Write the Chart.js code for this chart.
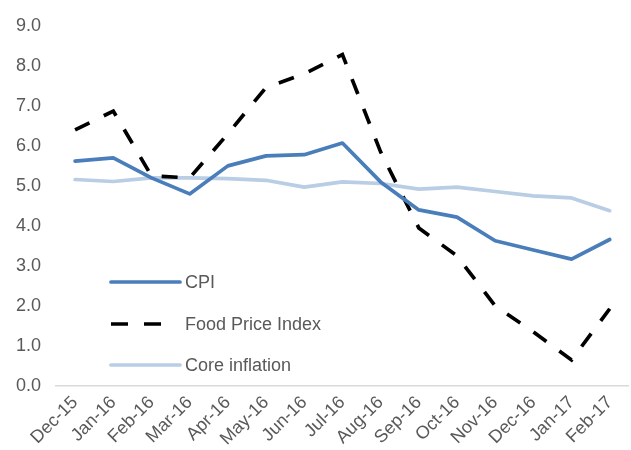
<!DOCTYPE html>
<html>
<head>
<meta charset="utf-8">
<script src="https://cdn.jsdelivr.net/npm/chart.js@4"></script>
<style>
  html, body { margin: 0; padding: 0; background: #fff; }
  #wrap { width: 631px; height: 450px; }
</style>
</head>
<body>
<div id="wrap"><canvas id="myChart" width="631" height="450"></canvas></div>
<script>
var months = ["Dec-15", "Jan-16", "Feb-16", "Mar-16", "Apr-16", "May-16", "Jun-16",
  "Jul-16", "Aug-16", "Sep-16", "Oct-16", "Nov-16", "Dec-16", "Jan-17", "Feb-17"];
var cpi = [5.62, 5.7, 5.2, 4.8, 5.5, 5.75, 5.78, 6.07, 5.1, 4.4, 4.22, 3.63, 3.4, 3.17, 3.66];
var foodPrice = [6.4, 6.87, 5.25, 5.2, 6.3, 7.46, 7.8, 8.28, 5.85, 3.95, 3.25, 2.0, 1.35, 0.65, 1.93];
var coreInflation = [5.16, 5.11, 5.2, 5.2, 5.18, 5.14, 4.97, 5.1, 5.06, 4.92, 4.97, 4.86, 4.75, 4.7, 4.38];
var yTicks = [0, 1, 2, 3, 4, 5, 6, 7, 8, 9];

var font = "'Liberation Sans', Arial, sans-serif";
var grey = "#595959";

// legend drawn inside the plot area, lower left
var insideLegend = {
  id: "insideLegend",
  afterDraw: function(chart) {
    var c = chart.ctx;
    var rows = [282, 324, 365];
    c.save();
    chart.data.datasets.forEach(function(ds, i) {
      var y = rows[i];
      c.beginPath();
      c.strokeStyle = ds.borderColor;
      c.lineWidth = ds.borderWidth;
      c.lineCap = ds.borderDash ? "butt" : "round";
      c.setLineDash(ds.borderDash ? [17, 16] : []);
      c.moveTo(111, y);
      c.lineTo(ds.borderDash ? 162 : 180, y);
      c.stroke();
      c.setLineDash([]);
      c.fillStyle = grey;
      c.font = "18px " + font;
      c.textBaseline = "middle";
      c.fillText(ds.label, 185, y + 1);
    });
    c.restore();
  }
};

new Chart(document.getElementById("myChart"), {
  type: "line",
  data: {
    labels: months,
    datasets: [
      {
        label: "CPI",
        data: cpi,
        borderColor: "#4a7ebb",
        borderWidth: 3.7,
        pointRadius: 0,
        tension: 0,
        borderJoinStyle: "round",
        borderCapStyle: "round"
      },
      {
        label: "Food Price Index",
        data: foodPrice,
        borderColor: "#000000",
        borderWidth: 3.7,
        borderDash: [16, 16],
        pointRadius: 0,
        tension: 0
      },
      {
        label: "Core inflation",
        data: coreInflation,
        borderColor: "#b9cde5",
        borderWidth: 3.7,
        pointRadius: 0,
        tension: 0,
        borderJoinStyle: "round",
        borderCapStyle: "round"
      }
    ]
  },
  options: {
    responsive: false,
    animation: false,
    layout: { padding: { top: 22, right: 0, left: 0, bottom: 0 } },
    plugins: {
      legend: { display: false },
      tooltip: { enabled: false }
    },
    scales: {
      x: {
        offset: true,
        grid: { display: false, drawTicks: false },
        border: { display: true, color: "#d9d9d9", width: 1.5 },
        ticks: {
          color: grey,
          font: { family: font, size: 18 },
          maxRotation: 45,
          minRotation: 45,
          autoSkip: false,
          padding: 6
        },
        afterFit: function(s) { s.height = 64; }
      },
      y: {
        min: 0,
        max: 9,
        afterBuildTicks: function(s) {
          s.ticks = yTicks.map(function(v) { return { value: v }; });
        },
        grid: { display: false, drawTicks: false },
        border: { display: false },
        ticks: {
          color: grey,
          font: { family: font, size: 18 },
          padding: 15,
          callback: function(v) { return v.toFixed(1); }
        },
        afterFit: function(s) { s.width = 56; }
      }
    }
  },
  plugins: [insideLegend]
});
</script>
</body>
</html>
